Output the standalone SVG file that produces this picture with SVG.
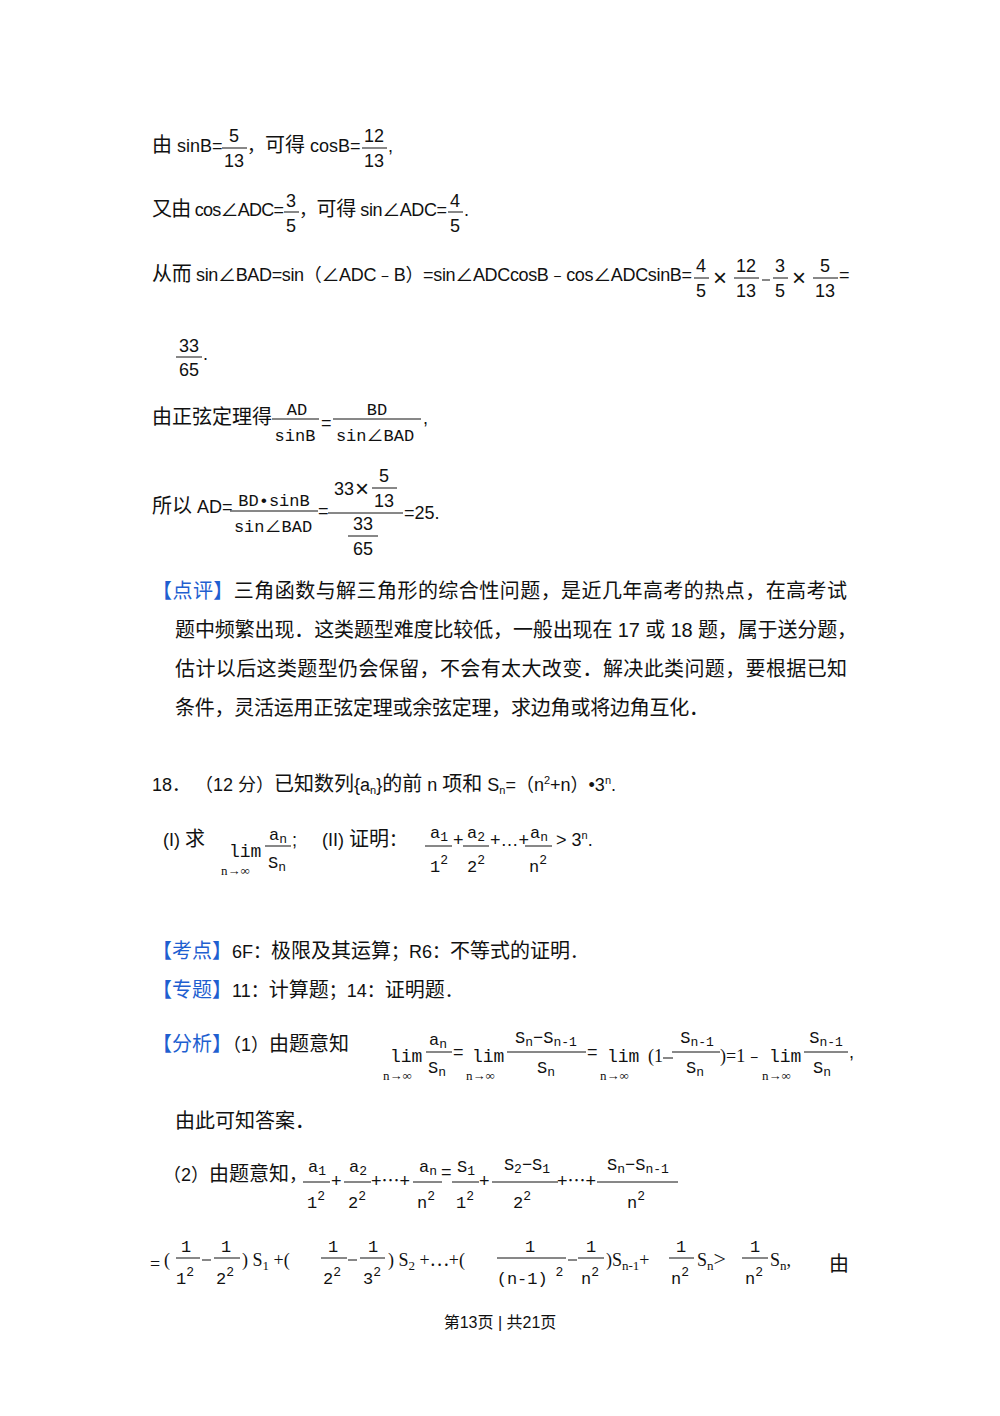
<svg xmlns="http://www.w3.org/2000/svg" width="1000" height="1416" viewBox="0 0 1000 1416">
<style>
text{font-family:"Liberation Sans","Noto Sans CJK SC",sans-serif;fill:#111}
.t{font-size:18px}
.c{font-size:20px}
.b{font-size:20px}
.f{font-size:18px;text-anchor:middle}
.m{font-family:"Liberation Serif","Noto Sans CJK SC",serif;font-size:18px}
.lm{font-family:"Liberation Mono",monospace;font-size:18px}
.mc{font-family:"Liberation Mono","Noto Sans CJK SC",monospace;font-size:17px;text-anchor:middle}
.s{font-family:"Liberation Serif",serif;font-size:13px}
.x{font-size:24px}
.blue{fill:#1f5fd0}
line{stroke:#111;stroke-width:1}
</style>
<rect width="1000" height="1416" fill="#fff"/>
<g id="l1">
<text class="t" x="152" y="152"><tspan class="c">由</tspan> sinB=</text>
<text class="f" x="234" y="142">5</text><line x1="222" y1="148" x2="247" y2="148"/><text class="f" x="234" y="167">13</text>
<text class="t" x="247" y="152">，<tspan class="c">可得</tspan> cosB=</text>
<text class="f" x="374" y="142">12</text><line x1="362" y1="148" x2="387" y2="148"/><text class="f" x="374" y="167">13</text>
<text class="t" x="388" y="152">,</text>
</g>
<g id="l2">
<text class="t" x="152" y="216" textLength="132"><tspan class="c">又由</tspan> cos∠ADC=</text>
<text class="f" x="291" y="207">3</text><line x1="284" y1="212" x2="299" y2="212"/><text class="f" x="291" y="232">5</text>
<text class="t" x="299" y="216" textLength="148">，<tspan class="c">可得</tspan> sin∠ADC=</text>
<text class="f" x="455" y="207">4</text><line x1="448" y1="212" x2="463" y2="212"/><text class="f" x="455" y="232">5</text>
<text class="t" x="464" y="216">.</text>
</g>
<g id="l3">
<text class="t" x="152" y="281" textLength="540"><tspan class="c">从而</tspan> sin∠BAD=sin（∠ADC﹣B）=sin∠ADCcosB﹣cos∠ADCsinB=</text>
<text class="f" x="701" y="272">4</text><line x1="694" y1="278" x2="709" y2="278"/><text class="f" x="701" y="297">5</text>
<text class="x" x="713" y="286">×</text>
<text class="f" x="746" y="272">12</text><line x1="734" y1="278" x2="759" y2="278"/><text class="f" x="746" y="297">13</text>
<line x1="762" y1="280" x2="770" y2="280"/>
<text class="f" x="780" y="272">3</text><line x1="773" y1="278" x2="788" y2="278"/><text class="f" x="780" y="297">5</text>
<text class="x" x="792" y="286">×</text>
<text class="f" x="825" y="272">5</text><line x1="813" y1="278" x2="838" y2="278"/><text class="f" x="825" y="297">13</text>
<text class="t" x="839" y="281">=</text>
</g>
<g id="l4">
<text class="f" x="189" y="352">33</text><line x1="176" y1="357" x2="202" y2="357"/><text class="f" x="189" y="376">65</text>
<text class="t" x="203" y="360">.</text>
</g>
<g id="l5">
<text class="c" x="152" y="424" textLength="120">由正弦定理得</text>
<text class="mc" x="297" y="415">AD</text><line x1="272" y1="419" x2="319" y2="419"/><text class="mc" x="295" y="441">sinB</text>
<text class="t" x="321" y="429">=</text>
<text class="mc" x="377" y="415">BD</text><line x1="333" y1="419" x2="421" y2="419"/><text class="mc" x="375" y="441">sin∠BAD</text>
<text class="t" x="423" y="424">,</text>
</g>
<g id="l6">
<text class="t" x="152" y="513"><tspan class="c">所以</tspan> AD=</text>
<text class="mc" x="274" y="506">BD•sinB</text><line x1="230" y1="511" x2="318" y2="511"/><text class="mc" x="273" y="532">sin∠BAD</text>
<text class="t" x="318" y="517">=</text>
<text class="f" x="344" y="495">33</text><text class="x" x="355" y="497">×</text>
<text class="f" x="384" y="482">5</text><line x1="372" y1="488" x2="397" y2="488"/><text class="f" x="384" y="507">13</text>
<line x1="328" y1="513" x2="403" y2="513"/>
<text class="f" x="363" y="530">33</text><line x1="348" y1="536" x2="378" y2="536"/><text class="f" x="363" y="555">65</text>
<text class="t" x="404" y="519">=25.</text>
</g>
<g id="comment">
<text class="b" x="152" y="598" textLength="695"><tspan class="blue">【点评】</tspan>三角函数与解三角形的综合性问题，是近几年高考的热点，在高考试</text>
<text class="b" x="175" y="637" textLength="682">题中频繁出现．这类题型难度比较低，一般出现在 17 或 18 题，属于送分题，</text>
<text class="b" x="175" y="676" textLength="672">估计以后这类题型仍会保留，不会有太大改变．解决此类问题，要根据已知</text>
<text class="b" x="175" y="715" textLength="534">条件，灵活运用正弦定理或余弦定理，求边角或将边角互化．</text>
</g>
<g id="q18">
<text class="t" x="152" y="791">18．  （12 分）<tspan class="c">已知数列</tspan>{a<tspan font-size="11" dy="3">n</tspan><tspan dy="-3">}</tspan><tspan class="c">的前</tspan> n <tspan class="c">项和</tspan> S<tspan font-size="11" dy="3">n</tspan><tspan dy="-3">=（n</tspan><tspan font-size="11" dy="-7">2</tspan><tspan dy="7">+n）•3</tspan><tspan font-size="11" dy="-7">n</tspan><tspan dy="7">.</tspan></text>
</g>
<g id="q18b">
<text class="t" x="163" y="846">(I) <tspan class="c">求</tspan></text>
<text class="lm" x="229" y="857">lim</text>
<text class="s" x="221" y="875">n→∞</text>
<text class="mc" x="278" y="840">a<tspan font-size="13" dy="3">n</tspan></text><line x1="265" y1="846" x2="291" y2="846"/><text class="mc" x="277" y="868">S<tspan font-size="13" dy="3">n</tspan></text>
<text class="t" x="292" y="846">;</text>
<text class="t" x="322" y="846">(II) <tspan class="c">证明</tspan>：</text>
<text class="mc" x="439" y="838">a<tspan font-size="13" dy="3">1</tspan></text><line x1="425" y1="846" x2="452" y2="846"/><text class="mc" x="439" y="872">1<tspan font-size="13" dy="-8">2</tspan></text>
<text class="t" x="453" y="846" font-size="14">+</text>
<text class="mc" x="476" y="838">a<tspan font-size="13" dy="3">2</tspan></text><line x1="463" y1="846" x2="489" y2="846"/><text class="mc" x="476" y="872">2<tspan font-size="13" dy="-8">2</tspan></text>
<text class="t" x="490" y="846" font-size="14">+…+</text>
<text class="mc" x="539" y="838">a<tspan font-size="13" dy="3">n</tspan></text><line x1="525" y1="846" x2="552" y2="846"/><text class="mc" x="538" y="872">n<tspan font-size="13" dy="-8">2</tspan></text>
<text class="t" x="556" y="846">&gt; 3<tspan font-size="11" dy="-7">n</tspan><tspan dy="7">.</tspan></text>
</g>
<g id="kd">
<text class="t" x="152" y="958"><tspan class="blue" font-size="20">【考点】</tspan>6F：<tspan class="c">极限及其运算</tspan>；R6：<tspan class="c">不等式的证明</tspan>．</text>
<text class="t" x="152" y="997"><tspan class="blue" font-size="20">【专题】</tspan>11：<tspan class="c">计算题</tspan>；14：<tspan class="c">证明题</tspan>．</text>
</g>
<g id="fx">
<text class="t" x="152" y="1051"><tspan class="blue" font-size="20">【分析】</tspan>（1）<tspan class="c">由题意知</tspan></text>
<text class="lm" x="390" y="1062">lim</text><text class="s" x="383" y="1080">n→∞</text>
<text class="mc" x="438" y="1045">a<tspan font-size="13" dy="3">n</tspan></text><line x1="426" y1="1052" x2="452" y2="1052"/><text class="mc" x="437" y="1073">S<tspan font-size="13" dy="3">n</tspan></text>
<text class="t" x="453" y="1058">=</text>
<text class="lm" x="472" y="1062">lim</text><text class="s" x="466" y="1080">n→∞</text>
<text class="mc" x="546" y="1043">S<tspan font-size="13" dy="3">n</tspan><tspan dy="-3">−S</tspan><tspan font-size="13" dy="3">n-1</tspan></text><line x1="507" y1="1052" x2="586" y2="1052"/><text class="mc" x="546" y="1073">S<tspan font-size="13" dy="3">n</tspan></text>
<text class="t" x="587" y="1058">=</text>
<text class="lm" x="607" y="1062">lim</text><text class="s" x="600" y="1080">n→∞</text>
<text class="m" x="648" y="1062">(1</text>
<line x1="663" y1="1058" x2="673" y2="1058"/>
<text class="mc" x="697" y="1043">S<tspan font-size="13" dy="3">n-1</tspan></text><line x1="672" y1="1052" x2="720" y2="1052"/><text class="mc" x="695" y="1073">S<tspan font-size="13" dy="3">n</tspan></text>
<text class="m" x="720" y="1062">)=1﹣</text>
<text class="lm" x="769" y="1062">lim</text><text class="s" x="762" y="1080">n→∞</text>
<text class="mc" x="826" y="1043">S<tspan font-size="13" dy="3">n-1</tspan></text><line x1="804" y1="1052" x2="848" y2="1052"/><text class="mc" x="822" y="1073">S<tspan font-size="13" dy="3">n</tspan></text>
<text class="t" x="849" y="1058">,</text>
<text class="c" x="175" y="1128">由此可知答案．</text>
</g>
<g id="p2">
<text class="t" x="163" y="1181">（2）<tspan class="c">由题意知</tspan>，</text>
<text class="mc" x="317" y="1172">a<tspan font-size="13" dy="3">1</tspan></text><line x1="303" y1="1182" x2="330" y2="1182"/><text class="mc" x="316" y="1208">1<tspan font-size="13" dy="-8">2</tspan></text>
<text class="t" x="331" y="1187">+</text>
<text class="mc" x="358" y="1172">a<tspan font-size="13" dy="3">2</tspan></text><line x1="344" y1="1182" x2="371" y2="1182"/><text class="mc" x="357" y="1208">2<tspan font-size="13" dy="-8">2</tspan></text>
<text class="t" x="371" y="1187">+⋯+</text>
<text class="mc" x="428" y="1172">a<tspan font-size="13" dy="3">n</tspan></text><line x1="413" y1="1182" x2="442" y2="1182"/><text class="mc" x="426" y="1208">n<tspan font-size="13" dy="-8">2</tspan></text>
<text class="t" x="441" y="1178" font-size="14">=</text>
<text class="mc" x="466" y="1172">S<tspan font-size="13" dy="3">1</tspan></text><line x1="452" y1="1182" x2="479" y2="1182"/><text class="mc" x="465" y="1208">1<tspan font-size="13" dy="-8">2</tspan></text>
<text class="t" x="479" y="1187">+</text>
<text class="mc" x="527" y="1170">S<tspan font-size="13" dy="3">2</tspan><tspan dy="-3">−S</tspan><tspan font-size="13" dy="3">1</tspan></text><line x1="492" y1="1182" x2="558" y2="1182"/><text class="mc" x="522" y="1208">2<tspan font-size="13" dy="-8">2</tspan></text>
<text class="t" x="557" y="1187">+⋯+</text>
<text class="mc" x="638" y="1170">S<tspan font-size="13" dy="3">n</tspan><tspan dy="-3">−S</tspan><tspan font-size="13" dy="3">n-1</tspan></text><line x1="597" y1="1182" x2="678" y2="1182"/><text class="mc" x="636" y="1208">n<tspan font-size="13" dy="-8">2</tspan></text>
</g>
<g id="p3">
<text class="m" x="150" y="1270" font-size="14">=</text>
<text class="m" x="164" y="1266">(</text>
<text class="mc" x="186" y="1252">1</text><line x1="176" y1="1258" x2="200" y2="1258"/><text class="mc" x="185" y="1284">1<tspan font-size="13" dy="-8">2</tspan></text>
<line x1="202" y1="1260" x2="211" y2="1260"/>
<text class="mc" x="226" y="1252">1</text><line x1="214" y1="1258" x2="240" y2="1258"/><text class="mc" x="225" y="1284">2<tspan font-size="13" dy="-8">2</tspan></text>
<text class="m" x="242" y="1266">)  S<tspan font-size="13" dy="4">1</tspan><tspan dy="-4">  +(</tspan></text>
<text class="mc" x="333" y="1252">1</text><line x1="321" y1="1258" x2="347" y2="1258"/><text class="mc" x="332" y="1284">2<tspan font-size="13" dy="-8">2</tspan></text>
<line x1="348" y1="1260" x2="357" y2="1260"/>
<text class="mc" x="373" y="1252">1</text><line x1="360" y1="1258" x2="385" y2="1258"/><text class="mc" x="372" y="1284">3<tspan font-size="13" dy="-8">2</tspan></text>
<text class="m" x="388" y="1266">)  S<tspan font-size="13" dy="4">2</tspan><tspan dy="-4">  +⋯+(</tspan></text>
<text class="mc" x="530" y="1252">1</text><line x1="497" y1="1258" x2="566" y2="1258"/><text class="mc" x="530" y="1284">(n-1)<tspan font-size="13" dy="-8"> 2</tspan></text>
<line x1="568" y1="1260" x2="577" y2="1260"/>
<text class="mc" x="591" y="1252">1</text><line x1="578" y1="1258" x2="604" y2="1258"/><text class="mc" x="590" y="1284">n<tspan font-size="13" dy="-8">2</tspan></text>
<text class="m" x="606" y="1266">)S<tspan font-size="13" dy="4">n-1</tspan><tspan dy="-4">+</tspan></text>
<text class="mc" x="681" y="1252">1</text><line x1="669" y1="1258" x2="694" y2="1258"/><text class="mc" x="680" y="1284">n<tspan font-size="13" dy="-8">2</tspan></text>
<text class="m" x="697" y="1266">S<tspan font-size="13" dy="4">n</tspan><tspan dy="-4" font-size="22">&gt;</tspan></text>
<text class="mc" x="755" y="1252">1</text><line x1="742" y1="1258" x2="768" y2="1258"/><text class="mc" x="754" y="1284">n<tspan font-size="13" dy="-8">2</tspan></text>
<text class="m" x="770" y="1266">S<tspan font-size="13" dy="4">n</tspan><tspan dy="-4">,</tspan></text>
<text class="c" x="829" y="1271">由</text>
</g>
<g id="footer">
<text x="500" y="1328" font-size="16" text-anchor="middle">第13页 | 共21页</text>
</g>
</svg>
